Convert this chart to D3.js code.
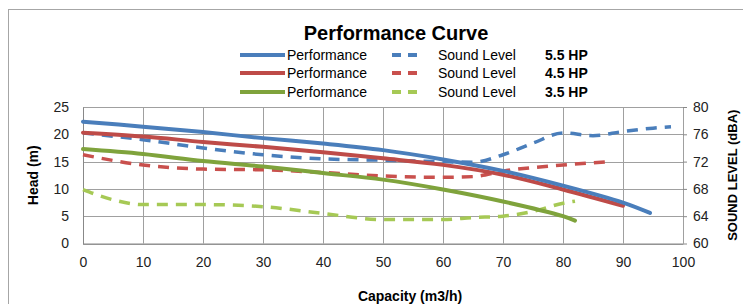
<!DOCTYPE html>
<html>
<head>
<meta charset="utf-8">
<script src="https://cdn.jsdelivr.net/npm/d3@7"></script>
<style>
body { margin: 0; background: #fff; }
text { font-family: "Liberation Sans", Arial, sans-serif; }
</style>
</head>
<body>
<svg id="chart" width="743" height="304"></svg>
<script>
// capacity (m3/h) vs head (m) and sound level (dBA)
var xTicks = [0, 10, 20, 30, 40, 50, 60, 70, 80, 90, 100];
var headTicks = [0, 5, 10, 15, 20, 25];
var soundTicks = [60, 64, 68, 72, 76, 80];

var perf55 = [[0,22.3],[10,21.4],[20,20.4],[30,19.3],[40,18.3],[50,17.1],[60,15.4],[70,13.3],[80,10.6],[90,7.5],[94.5,5.6]];
var perf45 = [[0,20.3],[10,19.6],[20,18.6],[30,17.7],[40,16.7],[50,15.6],[60,14.4],[70,12.6],[80,9.9],[90,6.9]];
var perf35 = [[0,17.3],[10,16.4],[20,15.1],[30,14.1],[40,12.9],[50,11.7],[60,9.9],[70,7.7],[80,5.0],[82,4.2]];

var sound55 = [[0,76.2],[10,75.2],[20,74.0],[30,73.0],[40,72.4],[50,72.2],[60,72.0],[65,71.9],[70,73.0],[75,74.7],[80,76.2],[85,75.8],[90,76.4],[95,76.9],[98,77.1]];
var sound45 = [[0,73.0],[10,71.5],[20,70.9],[30,70.8],[40,70.4],[50,69.9],[60,69.7],[65,69.8],[70,70.6],[80,71.5],[88,72.0]];
var sound35 = [[0,67.9],[5,66.4],[10,65.7],[20,65.7],[30,65.4],[40,64.4],[50,63.5],[60,63.5],[65,63.8],[70,64.0],[75,64.7],[80,65.9],[82,66.2]];

var series = [
  {perf: perf55, sound: sound55, label: '5.5 HP', col: '#4a7ebb', dcol: '#4a7ebb'},
  {perf: perf45, sound: sound45, label: '4.5 HP', col: '#be4b48', dcol: '#c9504d'},
  {perf: perf35, sound: sound35, label: '3.5 HP', col: '#7fa33c', dcol: '#a6c955'}
];

var svg = d3.select('#chart');

// outer chart frame
svg.append('rect')
  .attr('x', 8.5).attr('y', 9.5)
  .attr('width', 800).attr('height', 400)
  .attr('fill', 'none').attr('stroke', '#a6a6a6');

var pLeft = 83, pRight = 683, pTop = 107, pBottom = 243.5;

var x = d3.scaleLinear().domain([0, 100]).range([pLeft, pRight]);
var yHead = d3.scaleLinear().domain([0, 25]).range([pBottom, pTop]);
var ySound = d3.scaleLinear().domain([60, 80]).range([pBottom, pTop]);

// gridlines
var grid = svg.append('g');
grid.selectAll('line.v').data(xTicks).enter().append('line')
  .attr('x1', function(d){ return Math.round(x(d)) + 0.5; })
  .attr('x2', function(d){ return Math.round(x(d)) + 0.5; })
  .attr('y1', pTop).attr('y2', pBottom)
  .attr('stroke', '#a0a0a0').attr('stroke-width', 1);
grid.selectAll('line.h').data(headTicks).enter().append('line')
  .attr('y1', function(d){ return Math.round(yHead(d)) + 0.5; })
  .attr('y2', function(d){ return Math.round(yHead(d)) + 0.5; })
  .attr('x1', pLeft).attr('x2', pRight)
  .attr('stroke', '#a0a0a0').attr('stroke-width', 1);

// axes
var xAxis = d3.axisBottom(x).tickValues(xTicks).tickSize(0).tickPadding(14);
var gx = svg.append('g').attr('transform', 'translate(0,' + pBottom + ')').call(xAxis);
gx.select('.domain').attr('stroke', '#888');

var yAxisL = d3.axisLeft(yHead).tickValues(headTicks).tickSize(0).tickPadding(14);
var gl = svg.append('g').attr('transform', 'translate(' + pLeft + ',0)').call(yAxisL);
gl.select('.domain').attr('stroke', '#888');

var yAxisR = d3.axisRight(ySound).tickValues(soundTicks).tickSize(4).tickPadding(6);
var gr = svg.append('g').attr('transform', 'translate(' + pRight + ',0)').call(yAxisR);
gr.select('.domain').remove();
gr.selectAll('.tick line').attr('stroke', '#888');

svg.selectAll('.tick text')
  .attr('font-family', '"Liberation Sans", Arial, sans-serif')
  .attr('font-size', 14).attr('fill', '#222');

// lines
var headLine = d3.line()
  .x(function(d){ return x(d[0]); })
  .y(function(d){ return yHead(d[1]); })
  .curve(d3.curveCatmullRom);
var soundLine = d3.line()
  .x(function(d){ return x(d[0]); })
  .y(function(d){ return ySound(d[1]); })
  .curve(d3.curveMonotoneX);

var plot = svg.append('g');
// dashed first, then solid; lower hp drawn first
series.slice().reverse().forEach(function(s){
  plot.append('path').datum(s.sound)
    .attr('d', soundLine)
    .attr('fill', 'none').attr('stroke', s.dcol)
    .attr('stroke-width', 3.5)
    .attr('stroke-dasharray', '11,8');
});
series.slice().reverse().forEach(function(s){
  plot.append('path').datum(s.perf)
    .attr('d', headLine)
    .attr('fill', 'none').attr('stroke', s.col)
    .attr('stroke-width', 4)
    .attr('stroke-linecap', 'round');
});

// title
svg.append('text')
  .attr('x', 396).attr('y', 40)
  .attr('text-anchor', 'middle')
  .attr('font-size', 20).attr('font-weight', 'bold')
  .text('Performance Curve');

// legend
var legendY = [55, 73, 92];
var leg = svg.selectAll('g.leg').data(series).enter().append('g')
  .attr('class', 'leg')
  .attr('transform', function(d, i){ return 'translate(0,' + legendY[i] + ')'; });
leg.append('line')
  .attr('x1', 240).attr('x2', 285).attr('y1', 0).attr('y2', 0)
  .attr('stroke', function(d){ return d.col; }).attr('stroke-width', 4);
leg.append('text')
  .attr('x', 287).attr('y', 5)
  .attr('font-size', 14)
  .text('Performance');
leg.append('line')
  .attr('x1', 392).attr('x2', 417).attr('y1', 0).attr('y2', 0)
  .attr('stroke', function(d){ return d.dcol; }).attr('stroke-width', 4)
  .attr('stroke-dasharray', '9,7');
leg.append('text')
  .attr('x', 438).attr('y', 5)
  .attr('font-size', 14)
  .text('Sound Level');
leg.append('text')
  .attr('x', 545).attr('y', 5)
  .attr('font-size', 14).attr('font-weight', 'bold')
  .text(function(d){ return d.label; });

// axis titles
svg.append('text')
  .attr('transform', 'translate(38,' + ((pTop + pBottom) / 2) + ') rotate(-90)')
  .attr('text-anchor', 'middle')
  .attr('font-size', 14).attr('font-weight', 'bold')
  .text('Head (m)');
svg.append('text')
  .attr('transform', 'translate(737,' + ((pTop + pBottom) / 2) + ') rotate(-90)')
  .attr('text-anchor', 'middle')
  .attr('font-size', 13).attr('font-weight', 'bold')
  .text('SOUND LEVEL (dBA)');
svg.append('text')
  .attr('x', 410).attr('y', 301)
  .attr('text-anchor', 'middle')
  .attr('font-size', 14).attr('font-weight', 'bold')
  .text('Capacity (m3/h)');
</script>
</body>
</html>
